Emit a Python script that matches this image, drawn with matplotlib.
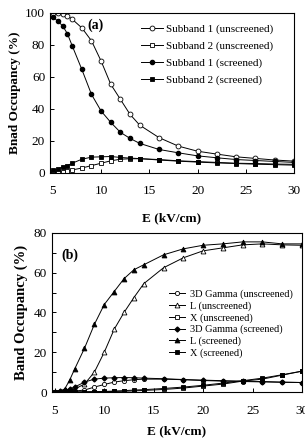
import numpy as np
import matplotlib
matplotlib.use('Agg')
import matplotlib.pyplot as plt

plt.rcParams['font.family'] = ['Liberation Serif', 'DejaVu Serif']

## data, panel (a)
E = [5, 5.5, 6, 6.5, 7, 8, 9, 10, 11, 12, 13, 14, 16, 18, 20, 22, 24, 26, 28, 30]
sub1_unscr = [99.6, 99.6, 99.2, 98.1, 96, 90.6, 82.5, 69.8, 55.3, 45.9, 36.5, 29.8,
              22, 16.7, 13.5, 11.7, 10, 9, 8, 7.3]
sub2_unscr = [0.3, 0.5, 0.8, 1.2, 1.8, 3, 4.5, 6, 7.5, 8.5, 8.8, 8.8,
              8.3, 7.5, 7, 6.5, 6, 5.8, 5.5, 5.3]
sub1_scr = [97.5, 94.8, 91.9, 87, 79.4, 64.6, 49, 38.6, 31.5, 25.3, 21.5, 18.4,
            14.6, 12.5, 10.6, 9.4, 8.3, 7.7, 7.1, 6.5]
sub2_scr = [1.5, 2.5, 3.5, 4.5, 6, 8.5, 9.8, 10, 10.2, 9.6, 9.2, 8.9,
            8, 7.3, 6.7, 6.2, 5.8, 5.4, 5.1, 4.8]

## data, panel (b)
gam_unscr = [0, 0, 0.1, 0.2, 0.5, 1, 2.5, 3.8, 5, 5.7, 6.2, 6.5,
             6.5, 6.2, 5.8, 5.5, 5.3, 5.1, 4.9, 4.8]
L_unscr = [0, 0, 0.2, 0.5, 1.5, 4, 10, 20, 31.5, 40, 47.5, 54.5,
           62.5, 67.5, 71, 72.5, 74, 74.5, 74, 73.8]
X_unscr = [0, 0, 0, 0, 0, 0.1, 0.1, 0.2, 0.3, 0.4, 0.6, 0.8,
           1.3, 2, 3, 4, 5.5, 6.5, 8.5, 10.5]
gam_scr = [0.2, 0.5, 1, 1.5, 2.5, 5, 6.5, 7, 7.2, 7.3, 7.2, 7,
           6.7, 6.3, 6, 5.7, 5.5, 5.3, 5, 4.8]
L_scr = [0, 0.5, 1.5, 6, 11.5, 22, 34, 44, 50.5, 57, 61.5, 64,
         69, 72, 73.8, 74.5, 75.5, 75.5, 74.5, 74.5]
X_scr = [0, 0, 0, 0, 0, 0.1, 0.2, 0.3, 0.5, 0.7, 1, 1.2,
         1.8, 2.5, 3.4, 4.5, 5.7, 7, 8.7, 10.5]

fig = plt.figure(figsize=(3.05, 4.42), dpi=100)
axa = fig.add_axes([0.164, 0.609, 0.800, 0.362])
axb = fig.add_axes([0.170, 0.113, 0.820, 0.360])

lw = 0.7
ms = 3.5
kw = dict(color='black', lw=lw, ms=ms, mew=0.6)

## Panel (a)
axa.plot(E, sub1_unscr, marker='o', mfc='white', label='Subband 1 (unscreened)', **kw)
axa.plot(E, sub2_unscr, marker='s', mfc='white', label='Subband 2 (unscreened)', **kw)
axa.plot(E, sub1_scr, marker='o', mfc='black', ms=3, label='Subband 1 (screened)', color='black', lw=lw)
axa.plot(E, sub2_scr, marker='s', mfc='black', label='Subband 2 (screened)', **kw)
axa.set_xlim(4.7, 30)
axa.set_ylim(0, 100)
axa.set_xticks([5, 10, 15, 20, 25, 30])
axa.set_yticks([0, 20, 40, 60, 80, 100])
axa.set_xlabel('E (kV/cm)', fontsize=9.5, fontweight='bold', labelpad=11)
axa.set_ylabel('Bnad Occupancy (%)', fontsize=9.5, fontweight='bold', labelpad=3)
axa.text(0.155, 0.92, '(a)', transform=axa.transAxes, fontsize=10, fontweight='bold', va='center')
axa.legend(loc='upper left', bbox_to_anchor=(0.33, 0.99), frameon=False, fontsize=8,
           handlelength=2.0, handletextpad=0.25, labelspacing=0.62)

## Panel (b)
axb.plot(E, gam_unscr, marker='o', mfc='white', ms=3, label='3D Gamma (unscreened)', color='black', lw=lw, mew=0.6)
axb.plot(E, L_unscr, marker='^', mfc='white', label='L (unscreened)', **kw)
axb.plot(E, X_unscr, marker='s', mfc='white', ms=3, label='X (unscreened)', color='black', lw=lw, mew=0.6)
axb.plot(E, gam_scr, marker='D', mfc='black', ms=2.5, label='3D Gamma (screened)', color='black', lw=lw)
axb.plot(E, L_scr, marker='^', mfc='black', label='L (screened)', **kw)
axb.plot(E, X_scr, marker='s', mfc='black', label='X (screened)', **kw)
axb.set_xlim(4.7, 30)
axb.set_ylim(0, 80)
axb.set_xticks([5, 10, 15, 20, 25, 30])
axb.set_yticks([0, 20, 40, 60, 80])
axb.set_yticks(np.arange(0, 81, 10), minor=True)
axb.set_xlabel('E (kV/cm)', fontsize=9.5, fontweight='bold', labelpad=6)
axb.set_ylabel('Band Occupancy (%)', fontsize=10.5, fontweight='bold', labelpad=4)
axb.text(0.04, 0.84, '(b)', transform=axb.transAxes, fontsize=10, fontweight='bold')
axb.legend(loc='center left', bbox_to_anchor=(0.43, 0.43), frameon=False, fontsize=7.4,
           handlelength=1.6, handletextpad=0.45, labelspacing=0.22)

for ax in (axa, axb):
    ax.tick_params(axis='both', which='both', direction='in', labelsize=9.5, length=3, width=0.7)
    ax.tick_params(axis='x', pad=9)
    for s in ax.spines.values():
        s.set_linewidth(0.8)

fig.savefig('out.png', dpi=100)
